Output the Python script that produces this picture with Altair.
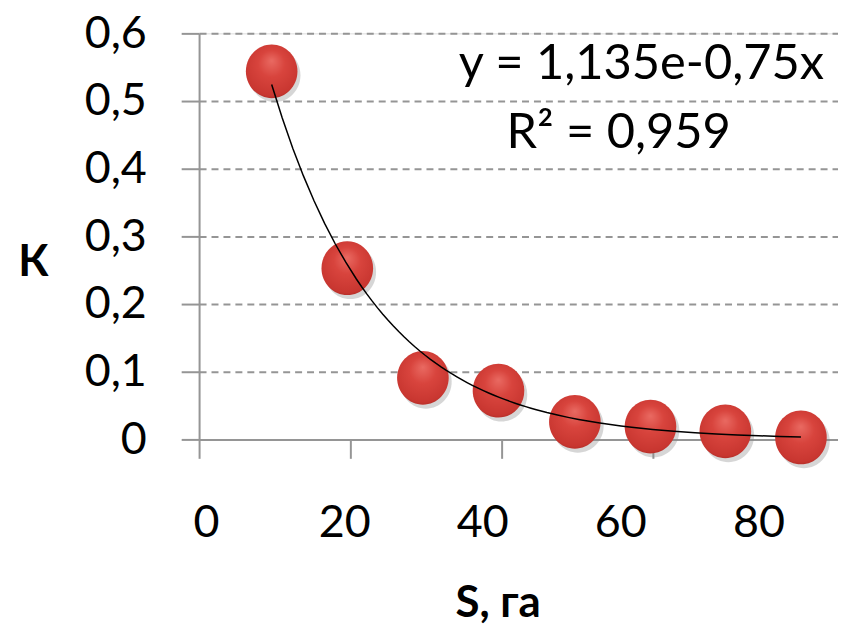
import altair as alt
import pandas as pd

# ---- data ----
s_vals = [9.6, 19.6, 29.6, 39.6, 49.7, 59.7, 69.6, 79.6]
k_vals = [0.544, 0.253, 0.091, 0.072, 0.026, 0.019, 0.012, 0.003]
x_ticks = [0, 20, 40, 60, 80]
y_ticks = [0, 0.1, 0.2, 0.3, 0.4, 0.5, 0.6]
eq_labels = ["y = 1,135e-0,75x", "R² = 0,959"]
eq_x = [58.5, 55.5]
eq_y = [0.532, 0.431]

FONT = "Lato"
GRAY = "#959595"

pts = pd.DataFrame({"x": s_vals, "y": k_vals})
eq = pd.DataFrame({"x": eq_x, "y": eq_y, "label": eq_labels})
ticks_df = pd.DataFrame({"t": x_ticks})

xscale = alt.Scale(domain=[0, 84.5], nice=False, zero=False)
yscale = alt.Scale(domain=[0, 0.6], nice=False)

x_axis = alt.Axis(values=x_ticks, labels=False, title=None, grid=False,
                  tickSize=19, tickColor=GRAY, tickWidth=2,
                  domainColor=GRAY, domainWidth=2)
y_axis = alt.Axis(values=y_ticks, grid=True, gridColor=GRAY, gridDash=[7, 5], gridWidth=2,
                  tickSize=18, tickColor=GRAY, tickWidth=2,
                  domainColor=GRAY, domainWidth=2,
                  labelExpr="replace(format(datum.value, '~g'), '.', ',')",
                  labelFont=FONT, labelFontSize=45, labelColor="black", labelPadding=35,
                  title="К", titleAngle=0, titleX=-167, titleY=230,
                  titleAlign="center", titleBaseline="middle",
                  titleFont=FONT, titleFontSize=44, titleFontWeight="bold", titleColor="black")

X = alt.X("x:Q", scale=xscale, axis=x_axis)
Y = alt.Y("y:Q", scale=yscale, axis=y_axis)

ELLIPSE = "M -0.96 0 A 0.96 1 0 1 0 0.96 0 A 0.96 1 0 1 0 -0.96 0 Z"
sphere = {
    "gradient": "radial",
    "x1": 0.5, "y1": 0.3, "r1": 0.0,
    "x2": 0.5, "y2": 0.45, "r2": 0.62,
    "stops": [
        {"offset": 0.0, "color": "#e96a62"},
        {"offset": 0.4, "color": "#d8443d"},
        {"offset": 0.85, "color": "#c83630"},
        {"offset": 1.0, "color": "#9c2520"},
    ],
}

base = alt.Chart(pts)

shadow = base.mark_point(shape=ELLIPSE, size=2916, filled=True, fill="#8a8a8a",
                         opacity=0.35, strokeWidth=0, xOffset=3, yOffset=4).encode(x=X, y=Y)
points = base.mark_point(shape=ELLIPSE, size=2916, filled=True, fill=sphere,
                         opacity=1, strokeWidth=0).encode(x=X, y=Y)
trend = base.transform_regression("x", "y", method="exp").mark_line(
    color="black", strokeWidth=1.5).encode(x=X, y=Y)
texts = alt.Chart(eq).mark_text(font=FONT, fontSize=49, color="black",
                                align="center", baseline="alphabetic").encode(
    x=X, y=Y, text="label:N")

main = alt.layer(shadow, points, trend, texts)

labels = alt.Chart(ticks_df).mark_point(opacity=0).encode(
    x=alt.X("t:Q", scale=alt.Scale(domain=[-1.009, 91.53], nice=False, zero=False),
            axis=alt.Axis(orient="bottom", values=x_ticks, ticks=False, tickSize=0,
                          domain=False, grid=False, labelFlush=False, labelOverlap=False,
                          labelPadding=98, labelBaseline="alphabetic",
                          labelFont=FONT, labelFontSize=45, labelColor="black",
                          title="S, га", titleFont=FONT, titleFontSize=44,
                          titleFontWeight="bold", titleColor="black",
                          titleX=300, titleY=178, titleAlign="center",
                          titleBaseline="alphabetic")),
    y=alt.value(0),
)

chart = alt.layer(main, labels).resolve_scale(x="independent").properties(
    width=642, height=408,
    padding={"left": 192, "top": 24, "right": 0, "bottom": 187},
    autosize=alt.AutoSizeParams(type="none"),
).configure_view(stroke=None).configure(font=FONT)

chart.save("out.html", embed_options={"renderer": "svg", "actions": False})
